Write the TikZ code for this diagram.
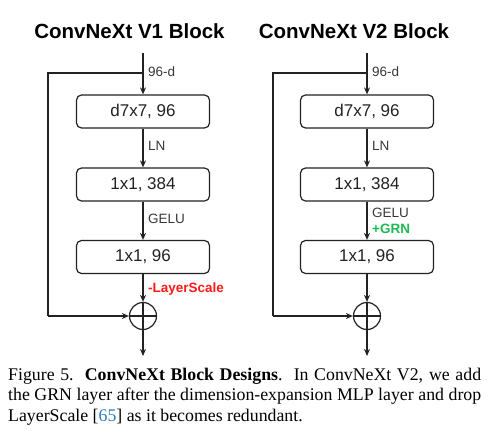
\documentclass[tikz,border=0pt]{standalone}
\usepackage{fontspec}
\setmainfont{Liberation Serif}
\newfontfamily\diag{Liberation Sans}
\usetikzlibrary{arrows.meta}
\definecolor{ink}{HTML}{222222}
\definecolor{grnc}{HTML}{1DB954}
\definecolor{redc}{HTML}{FF1A1A}
\definecolor{citec}{HTML}{2A7CC0}
\tikzset{
  blk/.style={draw=ink, line width=1.2pt, rounded corners=5pt, minimum width=133pt, minimum height=33pt, inner sep=0pt, font=\diag\fontsize{17}{20}\selectfont, text=ink},
  arr/.style={draw=ink, line width=1.2pt, -{Stealth[length=7pt,width=6pt]}},
  ln/.style={draw=ink, line width=1.2pt},
  lbl/.style={anchor=west, inner sep=0pt, font=\diag\fontsize{13.5}{15}\selectfont, text=ink!90},
  ttl/.style={anchor=base, inner sep=0pt, font=\diag\bfseries\fontsize{20.5}{24}\selectfont},
  addc/.style={draw=ink, line width=1.2pt, circle, minimum size=27pt, inner sep=0pt},
  captxt/.style={anchor=base west, inner sep=0pt, font=\fontsize{17.8}{20.5}\selectfont}
}
\begin{document}
\begin{tikzpicture}[x=1pt,y=-1pt]
\useasboundingbox (0,0) rectangle (500,436);
% ---------- V1 ----------
\node[ttl] (t1) at (129.5,38) {ConvNeXt V1 Block};
\coordinate (in1) at (143,53);
\coordinate (sk1) at (143,73);
\coordinate (sl1) at (48,73);
\node[blk] (a1) at (143,111.5) {d7x7, 96};
\node[blk] (b1) at (143,184.5) {1x1, 384};
\node[blk] (c1) at (143,257) {1x1, 96};
\node[addc] (p1) at (143,316) {};
\coordinate (o1) at (143,356);
\draw[arr] (in1) -- (a1);
\draw[ln] (sk1) -- (sl1) -- (sl1 |- p1);
\draw[arr] (sl1 |- p1) -- (p1);
\draw[arr] (a1) -- (b1);
\draw[arr] (b1) -- (c1);
\draw[arr] (c1) -- (p1);
\draw[ln] (p1.north) -- (p1.south) (p1.west) -- (p1.east);
\draw[arr] (p1) -- (o1);
\node[lbl] (l1a) at (148,72) {96-d};
\node[lbl] (l1b) at (148,146) {LN};
\node[lbl] (l1c) at (148,219) {GELU};
\node[lbl, text=redc, font=\diag\bfseries\fontsize{13.5}{15}\selectfont] (l1d) at (148,289) {-LayerScale};
% ---------- V2 ----------
\node[ttl] (t2) at (354,38) {ConvNeXt V2 Block};
\coordinate (in2) at (367,53);
\coordinate (sk2) at (367,73);
\coordinate (sl2) at (273,73);
\node[blk] (a2) at (367,111.5) {d7x7, 96};
\node[blk] (b2) at (367,184.5) {1x1, 384};
\node[blk] (c2) at (367,257) {1x1, 96};
\node[addc] (p2) at (367,316) {};
\coordinate (o2) at (367,356);
\draw[arr] (in2) -- (a2);
\draw[ln] (sk2) -- (sl2) -- (sl2 |- p2);
\draw[arr] (sl2 |- p2) -- (p2);
\draw[arr] (a2) -- (b2);
\draw[arr] (b2) -- (c2);
\draw[arr] (c2) -- (p2);
\draw[ln] (p2.north) -- (p2.south) (p2.west) -- (p2.east);
\draw[arr] (p2) -- (o2);
\node[lbl] (l2a) at (372,72) {96-d};
\node[lbl] (l2b) at (372,146) {LN};
\node[lbl] (l2c) at (372,213) {GELU};
\node[lbl, text=grnc, font=\diag\bfseries\fontsize{13.5}{15}\selectfont] (l2d) at (372,229) {+GRN};
% ---------- caption ----------
\node[captxt] (cap1) at (8,380) {\makebox[473pt][s]{Figure 5.\ \ \textbf{ConvNeXt Block Designs}.\ \ In ConvNeXt V2, we add}};
\node[captxt] (cap2) at (8,400.5) {\makebox[473pt][s]{the GRN layer after the dimension-expansion MLP layer and drop}};
\node[captxt] (cap3) at (8,421) {LayerScale [\textcolor{citec}{65}] as it becomes redundant.};
\end{tikzpicture}
\end{document}
